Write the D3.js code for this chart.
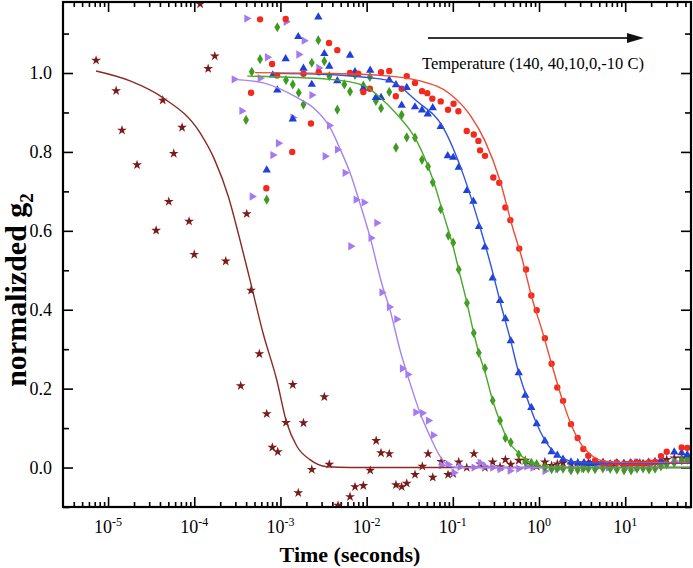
<!DOCTYPE html>
<html>
<head>
<meta charset="utf-8">
<script src="https://cdn.jsdelivr.net/npm/d3@7"></script>
<style>
  body { margin: 0; background: #fff; }
  svg { display: block; font-family: "Liberation Serif", "Times New Roman", serif; }
</style>
</head>
<body>
<div id="chart"></div>
<script>
// tick labels
var xMajor = [1e-5, 1e-4, 1e-3, 1e-2, 1e-1, 1, 10];
var xExp = ["-5", "-4", "-3", "-2", "-1", "0", "1"];
var yMajor = [0, 0.2, 0.4, 0.6, 0.8, 1.0];
var yMinor = [-0.1, 0.1, 0.3, 0.5, 0.7, 0.9, 1.1];

// series: [time (s), normalized g2]
var red = [[5.8e-4,1.136],[1.15e-3,1.137],[3.66e-3,1.076],[4.57e-3,1.058],[8.0e-4,1.023],[4.56e-4,0.950],[2.26e-3,0.872],[1.37e-3,0.800],[6.86e-4,0.708],[2.78e-3,1.002],[9.14e-4,0.994],[1.85e-3,0.998],[6.42e-3,1.000],[8.0e-3,0.998],[1.47e-2,1.002],[1.83e-2,1.005],[2.92e-2,0.992],[3.64e-2,0.975],[1.09e-2,0.960],[9.16e-3,0.952],[2.18e-2,0.941],[2.55e-2,0.960],[4.39e-2,0.954],[5.06e-2,0.949],[5.78e-2,0.935],[7.24e-2,0.928],[0.102,0.922],[0.088,0.907],[0.116,0.903],[0.145,0.853],[0.175,0.844],[0.198,0.828],[0.207,0.804],[0.236,0.790],[0.295,0.735],[0.346,0.722],[0.407,0.659],[0.465,0.627],[0.59,0.555],[0.707,0.502],[0.814,0.436],[0.94,0.399],[1.17,0.328],[1.40,0.263],[1.63,0.203],[1.90,0.169],[2.35,0.110],[2.81,0.075],[3.27,0.047],[3.73,0.030],[4.47,0.018],[5.5,0.012],[6.7,0.010],[8.0,0.012],[9.7,0.009],[11.7,0.011],[13.7,0.012],[16.1,0.010],[18.9,0.013],[22.2,0.014],[26.0,0.029],[30.3,0.040],[45.2,0.051],[52.5,0.050]];
var redFit = [[5.07e-4,1.001],[3.76e-3,0.999],[1.43e-2,0.994],[4.17e-2,0.980],[9.28e-2,0.947],[0.158,0.894],[0.236,0.828],[0.353,0.727],[0.486,0.614],[0.635,0.530],[0.83,0.429],[1.08,0.349],[1.42,0.258],[1.85,0.174],[2.41,0.104],[3.15,0.056],[4.12,0.030],[5.83,0.016],[9.95,0.013],[58,0.013]];

var blue = [[2.75e-3,1.142],[1.61e-3,1.092],[3.23e-3,1.049],[6.42e-3,1.045],[1.15e-3,1.036],[1.85e-3,1.012],[3.69e-3,1.017],[8.15e-4,0.995],[7.33e-3,1.003],[1.10e-2,1.007],[2.31e-3,0.971],[9.2e-4,0.957],[4.57e-3,0.980],[9.16e-3,0.961],[1.83e-2,0.982],[2.19e-2,0.970],[2.92e-2,0.963],[1.28e-2,0.938],[1.47e-2,0.938],[2.55e-2,0.918],[3.64e-2,0.914],[4.39e-2,0.906],[5.12e-2,0.896],[5.85e-2,0.912],[7.24e-2,0.864],[1.39e-3,0.883],[6.93e-4,0.754],[8.73e-2,0.790],[0.101,0.786],[0.117,0.761],[0.146,0.702],[0.173,0.675],[0.201,0.611],[0.236,0.559],[0.290,0.480],[0.353,0.423],[0.407,0.377],[0.470,0.321],[0.582,0.240],[0.693,0.183],[0.814,0.152],[0.94,0.111],[1.17,0.067],[1.40,0.040],[1.63,0.031],[1.90,0.021],[2.35,0.014],[2.83,0.011],[3.33,0.012],[3.91,0.010],[4.71,0.011],[5.5,0.012],[6.7,0.009],[8.0,0.012],[9.7,0.010],[11.7,0.011],[13.7,0.012],[16.1,0.010],[18.9,0.012],[22.2,0.014],[26.0,0.018],[37.1,0.039],[45.2,0.037],[52.5,0.032]];
var blueFit = [[8.15e-4,0.999],[2.88e-3,0.997],[1.09e-2,0.988],[1.87e-2,0.980],[3.81e-2,0.929],[7.7e-2,0.862],[0.131,0.745],[0.207,0.609],[0.290,0.495],[0.362,0.412],[0.470,0.321],[0.571,0.247],[0.693,0.189],[0.94,0.111],[1.40,0.045],[1.90,0.023],[2.62,0.014],[5.1,0.011],[58,0.011]];

var green = [[9.2e-4,1.116],[2.75e-3,1.083],[5.8e-4,1.035],[2.31e-3,1.026],[3.23e-3,1.030],[4.65e-4,1.003],[3.69e-3,0.992],[7.33e-3,0.995],[1.09e-2,0.990],[1.16e-3,0.982],[1.39e-3,0.971],[5.51e-3,0.971],[9.16e-3,0.968],[1.63e-3,0.950],[6.42e-3,0.953],[1.83e-2,0.952],[1.28e-2,0.929],[1.85e-3,0.920],[4.57e-3,0.907],[1.47e-2,0.911],[2.55e-2,0.894],[3.99e-4,0.881],[2.92e-2,0.837],[3.64e-2,0.836],[2.19e-2,0.811],[4.39e-2,0.780],[5.16e-2,0.763],[5.85e-2,0.723],[6.93e-4,0.679],[7.24e-2,0.655],[8.87e-2,0.588],[0.101,0.570],[0.117,0.502],[0.146,0.417],[0.175,0.341],[0.200,0.291],[0.236,0.252],[0.290,0.170],[0.353,0.119],[0.407,0.075],[0.470,0.064],[0.582,0.033],[0.693,0.015],[0.814,0.012],[0.94,0.009],[1.17,0.001],[1.40,-0.004],[1.63,-0.002],[1.90,-0.003],[2.35,-0.007],[2.81,-0.006],[3.27,-0.002],[3.73,-0.003],[4.47,-0.004],[5.5,-0.002],[6.7,-0.003],[8.0,-0.005],[9.7,-0.007],[11.7,-0.007],[13.7,-0.003],[16.1,-0.002],[18.9,-0.005],[22.2,-0.003],[26.0,0.003],[30.3,0.008],[37.1,0.012],[45.2,0.018],[52.5,0.020]];
var greenFit = [[4.13e-4,0.992],[3.76e-3,0.984],[9.16e-3,0.969],[1.43e-2,0.938],[2.23e-2,0.896],[3.81e-2,0.828],[5.94e-2,0.727],[7.76e-2,0.643],[0.101,0.559],[0.117,0.502],[0.146,0.417],[0.175,0.341],[0.200,0.291],[0.236,0.242],[0.290,0.170],[0.353,0.116],[0.422,0.075],[0.602,0.033],[0.787,0.013],[1.12,0.002],[1.75,0.0],[58,0.0]];

var purple = [[4.06e-4,1.138],[1.16e-3,1.130],[1.88e-3,1.082],[7.05e-4,1.040],[1.63e-3,1.047],[2.78e-3,1.013],[2.9e-4,0.984],[5.8e-4,0.987],[2.31e-3,0.944],[3.56e-4,0.904],[1.39e-3,0.887],[3.69e-3,0.867],[9.46e-4,0.822],[8.15e-4,0.792],[4.57e-3,0.806],[3.29e-3,0.789],[5.61e-3,0.747],[4.69e-4,0.687],[7.53e-3,0.679],[9.33e-3,0.672],[1.31e-2,0.620],[1.12e-2,0.582],[6.54e-3,0.561],[1.50e-2,0.444],[1.83e-2,0.407],[2.23e-2,0.376],[2.59e-2,0.251],[3.0e-2,0.236],[3.71e-2,0.140],[4.43e-2,0.138],[5.2e-2,0.119],[5.94e-2,0.082],[7.43e-2,0.006],[8.87e-2,0.008],[0.103,-0.013],[0.121,0.002],[0.176,0.0],[0.207,0.012],[0.236,0.003],[0.29,0.0],[0.353,-0.004],[0.461,-0.008],[0.58,-0.003],[0.72,0.003],[0.85,0.0],[1.17,-0.009],[1.63,-0.004],[2.35,-0.002],[3.27,-0.003],[4.67,0.0],[6.37,0.0],[10.4,0.0],[13.6,0.0],[18.9,0.005],[26.0,0.010],[37.1,0.016],[52.5,0.020]];
var purpleFit = [[2.9e-4,0.984],[6.33e-4,0.975],[1.55e-3,0.938],[2.41e-3,0.912],[3.76e-3,0.862],[4.91e-3,0.808],[6.42e-3,0.747],[8.38e-3,0.669],[1.09e-2,0.586],[1.50e-2,0.466],[1.87e-2,0.399],[2.44e-2,0.298],[3.19e-2,0.214],[4.17e-2,0.138],[5.44e-2,0.079],[7.1e-2,0.029],[9.28e-2,0.003],[0.121,0.0],[58,0.0]];

var brown = [[7.26e-6,1.032],[1.24e-5,0.955],[1.45e-5,0.855],[2.17e-5,0.767],[3.61e-5,0.601],[4.31e-5,0.931],[5.06e-5,0.674],[5.78e-5,0.796],[7.22e-5,0.862],[8.71e-5,0.624],[1.45e-4,1.011],[1.73e-4,1.043],[1.17e-4,1.175],[4.06e-4,0.643],[1.0e-4,0.540],[2.32e-4,0.523],[3.46e-4,0.207],[4.56e-4,0.449],[5.69e-4,0.288],[6.93e-4,0.136],[1.16e-3,0.114],[1.39e-3,0.210],[8.05e-4,0.051],[9.31e-4,0.040],[1.85e-3,0.113],[2.31e-3,-0.005],[1.61e-3,-0.064],[3.23e-3,0.179],[3.69e-3,0.008],[4.66e-3,-0.096],[6.42e-3,-0.074],[7.33e-3,-0.049],[9.16e-3,-0.046],[1.10e-2,-0.007],[1.29e-2,0.068],[1.47e-2,0.037],[1.83e-2,0.035],[2.19e-2,-0.044],[2.55e-2,-0.049],[2.92e-2,-0.040],[3.64e-2,-0.018],[4.43e-2,0.003],[5.16e-2,0.035],[5.85e-2,-0.025],[7.36e-2,0.015],[8.8e-2,-0.018],[0.101,-0.016],[0.117,0.014],[0.145,0.0],[0.176,0.035],[0.207,0.009],[0.236,0.0],[0.290,0.014],[0.353,0.002],[0.407,0.020],[0.470,0.008],[0.582,0.018],[0.693,0.018],[0.814,0.008],[0.94,0.003],[1.17,0.014],[1.40,0.005],[1.63,0.009],[1.90,0.012],[2.35,0.009],[2.81,0.012],[3.27,0.009],[3.73,0.012],[4.47,0.012],[5.57,0.012],[6.54,0.006],[7.62,0.009],[9.5,0.009],[11.4,0.012],[13.0,0.012],[14.8,0.012],[18.5,0.013],[22.2,0.014],[26.0,0.016],[30.3,0.020],[37.1,0.024],[45.2,0.024],[52.5,0.022]];
var brownFit = [[7.26e-6,1.005],[1.8e-5,0.980],[4.35e-5,0.937],[1.17e-4,0.848],[1.74e-4,0.778],[2.47e-4,0.689],[3.4e-4,0.576],[4.44e-4,0.475],[6.28e-4,0.341],[9.06e-4,0.222],[1.18e-3,0.114],[1.55e-3,0.054],[2.2e-3,0.020],[3.44e-3,0.002],[6.42e-3,0.0],[58,0.0]];

var legendText = "Temperature (140, 40,10,0,-10 C)";

// set the dimensions and margins of the graph
var margin = {top: 2, right: 2, bottom: 61, left: 63},
    width = 693 - margin.left - margin.right,
    height = 568 - margin.top - margin.bottom;

var svg = d3.select("#chart")
  .append("svg")
    .attr("width", 693)
    .attr("height", 568)
  .append("g")
    .attr("transform", "translate(" + margin.left + "," + margin.top + ")");

var x = d3.scaleLog().domain([3.0e-6, 58]).range([0, width]);
var y = d3.scaleLinear().domain([-0.1, 1.18]).range([height, 0]);

// minor ticks on the log axis: 2..9 of every decade
var xMinor = [];
[1e-6, 1e-5, 1e-4, 1e-3, 1e-2, 1e-1, 1, 10].forEach(function(d) {
  for (var k = 2; k <= 9; k++) {
    var v = d * k;
    if (v > x.domain()[0] && v < x.domain()[1]) xMinor.push(v);
  }
});

svg.append("defs").append("clipPath").attr("id", "clip")
  .append("rect").attr("width", width).attr("height", height);

// axes: ticks point inward on all four sides
function tidy(g) {
  g.select(".domain").remove();
  g.selectAll("line").attr("stroke", "#000").attr("stroke-width", 1.6);
}
svg.append("g").attr("transform", "translate(0," + height + ")")
  .call(d3.axisBottom(x).tickValues(xMajor).tickSize(-10).tickFormat("")).call(tidy);
svg.append("g").attr("transform", "translate(0," + height + ")")
  .call(d3.axisBottom(x).tickValues(xMinor).tickSize(-5).tickFormat("")).call(tidy);
svg.append("g")
  .call(d3.axisTop(x).tickValues(xMajor).tickSize(-10).tickFormat("")).call(tidy);
svg.append("g")
  .call(d3.axisTop(x).tickValues(xMinor).tickSize(-5).tickFormat("")).call(tidy);
svg.append("g")
  .call(d3.axisLeft(y).tickValues(yMajor).tickSize(-10).tickFormat("")).call(tidy);
svg.append("g")
  .call(d3.axisLeft(y).tickValues(yMinor).tickSize(-6).tickFormat("")).call(tidy);
svg.append("g").attr("transform", "translate(" + width + ",0)")
  .call(d3.axisRight(y).tickValues(yMajor).tickSize(-10).tickFormat("")).call(tidy);
svg.append("g").attr("transform", "translate(" + width + ",0)")
  .call(d3.axisRight(y).tickValues(yMinor).tickSize(-6).tickFormat("")).call(tidy);

// tick labels
var xl = svg.append("g").selectAll("text").data(xMajor).enter().append("text")
  .attr("x", function(d) { return x(d); })
  .attr("y", height + 26)
  .attr("text-anchor", "middle")
  .style("font-size", "18px");
xl.append("tspan").text("10");
xl.append("tspan").attr("dy", -7).style("font-size", "12px").text(function(d, i) { return xExp[i]; });

svg.append("g").selectAll("text").data(yMajor).enter().append("text")
  .attr("x", -11)
  .attr("y", function(d) { return y(d); })
  .attr("dy", "0.35em")
  .attr("text-anchor", "end")
  .style("font-size", "18px")
  .text(function(d) { return d.toFixed(1); });

// axis titles
svg.append("text")
  .attr("x", 350 - margin.left)
  .attr("y", height + 55)
  .attr("text-anchor", "middle")
  .style("font-size", "22px").style("font-weight", "bold")
  .text("Time (seconds)");

var yt = svg.append("text")
  .attr("transform", "translate(-37," + (290 - margin.top) + ") rotate(-90)")
  .attr("text-anchor", "middle")
  .style("font-size", "30px").style("font-weight", "bold");
yt.append("tspan").text("normalizded g");
yt.append("tspan").attr("dy", 7).style("font-size", "19px").text("2");

// data
var plot = svg.append("g").attr("clip-path", "url(#clip)");

var line = d3.line()
  .x(function(d) { return x(d[0]); })
  .y(function(d) { return y(d[1]); })
  .curve(d3.curveMonotoneX);

var series = [
  {pts: brown,  fit: brownFit,  color: "#7a1b1b", line: "#8a2a22", sym: d3.symbolStar,     size: 30, rot: 0},
  {pts: purple, fit: purpleFit, color: "#a47af2", line: "#a883ef", sym: d3.symbolTriangle, size: 30, rot: 90},
  {pts: green,  fit: greenFit,  color: "#3f9a22", line: "#4aa82e", sym: d3.symbolDiamond,  size: 30, rot: 0},
  {pts: blue,   fit: blueFit,   color: "#1f3fd8", line: "#2f55e0", sym: d3.symbolTriangle, size: 30, rot: 0},
  {pts: red,    fit: redFit,    color: "#f2291c", line: "#ee4a34", sym: d3.symbolCircle,   size: 32, rot: 0}
];

series.forEach(function(s) {
  plot.append("g").selectAll("path")
    .data(s.pts).enter().append("path")
    .attr("d", d3.symbol().type(s.sym).size(s.size))
    .attr("transform", function(d) {
      return "translate(" + x(d[0]) + "," + y(d[1]) + ") rotate(" + s.rot + ")";
    })
    .attr("fill", s.color);
});
series.forEach(function(s) {
  plot.append("path")
    .datum(s.fit)
    .attr("fill", "none")
    .attr("stroke", s.line)
    .attr("stroke-width", 1.4)
    .attr("d", line);
});

// temperature arrow + note
var ann = svg.append("g");
ann.append("line")
  .attr("x1", 428 - margin.left).attr("y1", 38 - margin.top)
  .attr("x2", 630 - margin.left).attr("y2", 38 - margin.top)
  .attr("stroke", "#333").attr("stroke-width", 2);
ann.append("path")
  .attr("d", "M" + (627 - margin.left) + "," + (33 - margin.top) + "L" + (644 - margin.left) + "," + (38 - margin.top) + "L" + (627 - margin.left) + "," + (43 - margin.top) + "Z")
  .attr("fill", "#111");
ann.append("text")
  .attr("x", 422 - margin.left).attr("y", 69 - margin.top)
  .style("font-size", "16.5px")
  .text(legendText);

// frame
svg.append("rect")
  .attr("width", width).attr("height", height)
  .attr("fill", "none").attr("stroke", "#000").attr("stroke-width", 2.2);
</script>
</body>
</html>
